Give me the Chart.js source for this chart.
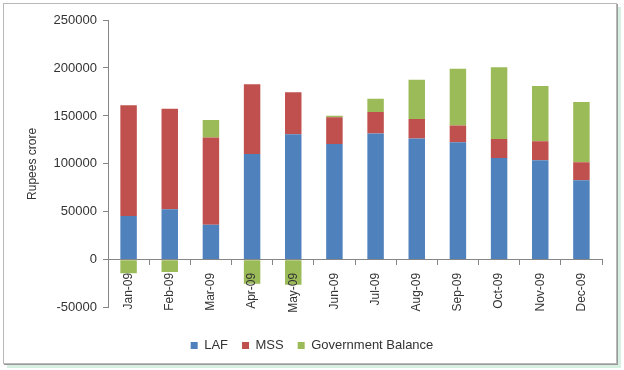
<!DOCTYPE html>
<html>
<head>
<meta charset="utf-8">
<script src="https://cdn.jsdelivr.net/npm/chart.js@4"></script>
<style>
  body { margin: 0; background: #fff; }
  #frame {
    position: absolute; left: 3px; top: 3px; width: 612px; height: 359px;
    border: 1px solid #b8b8b8; background: #fff;
    box-shadow: 1px 1px 0 #9a9a9a, 4px 4px 0 #d6f1e2;
  }
  #wrap { position: absolute; left: 0; top: 0; width: 624px; height: 370px; }
</style>
</head>
<body>
<div id="frame"></div>
<div id="wrap"><canvas id="chart" width="624" height="370"></canvas></div>
<script>
  // months and series (Rupees crore)
  const months = ['Jan-09', 'Feb-09', 'Mar-09', 'Apr-09', 'May-09', 'Jun-09',
                  'Jul-09', 'Aug-09', 'Sep-09', 'Oct-09', 'Nov-09', 'Dec-09'];
  const laf = [45800, 52800, 36500, 110400, 130900, 120800, 131600, 126400, 122600, 106200, 103800, 83000];
  const mss = [115300, 104800, 90900, 72600, 43800, 27800, 22600, 20500, 17300, 19800, 19800, 18700];
  const govBalance = [-13900, -12800, 18400, -25000, -26000, 1700, 13800, 40900, 59400, 74700, 57600, 62900];

  const yMin = -50000;
  const yMax = 250000;
  const yStep = 50000;

  const font = 'Liberation Sans';
  const textColor = '#333333';
  const axisColor = '#868686';

  // nudge the legend a bit to the right, it is centred on the whole frame
  const legendShift = {
    id: 'legendShift',
    afterLayout(chart) {
      chart.legend.left += 11;
      chart.legend.right += 11;
    }
  };

  const ctx = document.getElementById('chart').getContext('2d');
  new Chart(ctx, {
    type: 'bar',
    data: {
      labels: months,
      datasets: [
        { label: 'LAF', data: laf, backgroundColor: '#4f81bd' },
        { label: 'MSS', data: mss, backgroundColor: '#c0504d' },
        { label: 'Government Balance', data: govBalance, backgroundColor: '#9bbb59' }
      ]
    },
    plugins: [legendShift],
    options: {
      responsive: false,
      animation: false,
      layout: { padding: { left: 0, right: 22, top: 20, bottom: 8 } },
      datasets: { bar: { categoryPercentage: 0.4, barPercentage: 1 } },
      plugins: {
        tooltip: { enabled: false },
        legend: {
          position: 'bottom',
          title: { display: true, text: ' ', font: { size: 1 }, padding: { top: 16, bottom: 0 } },
          labels: {
            boxWidth: 7, boxHeight: 7, padding: 14,
            color: textColor,
            font: { family: font, size: 13 }
          }
        }
      },
      scales: {
        x: {
          stacked: true,
          position: { y: 0 },
          grid: { display: true, drawOnChartArea: false, offset: true, tickLength: 5, color: axisColor, z: 1 },
          border: { color: axisColor, z: 1 },
          ticks: {
            minRotation: 90, maxRotation: 90, autoSkip: false, padding: 8, z: 1,
            color: textColor, font: { family: font, size: 12 }
          }
        },
        y: {
          stacked: true,
          min: yMin, max: yMax,
          afterFit: (s) => { s.width = 108; },
          grid: { display: true, drawOnChartArea: false, tickLength: 5, color: axisColor },
          border: { color: axisColor },
          ticks: {
            stepSize: yStep, padding: 6,
            color: textColor, font: { family: font, size: 13 },
            callback: (v) => String(v)
          },
          title: {
            display: true, text: 'Rupees crore',
            padding: { top: 25, bottom: 0 },
            color: textColor, font: { family: font, size: 12 }
          }
        }
      }
    }
  });
</script>
</body>
</html>
